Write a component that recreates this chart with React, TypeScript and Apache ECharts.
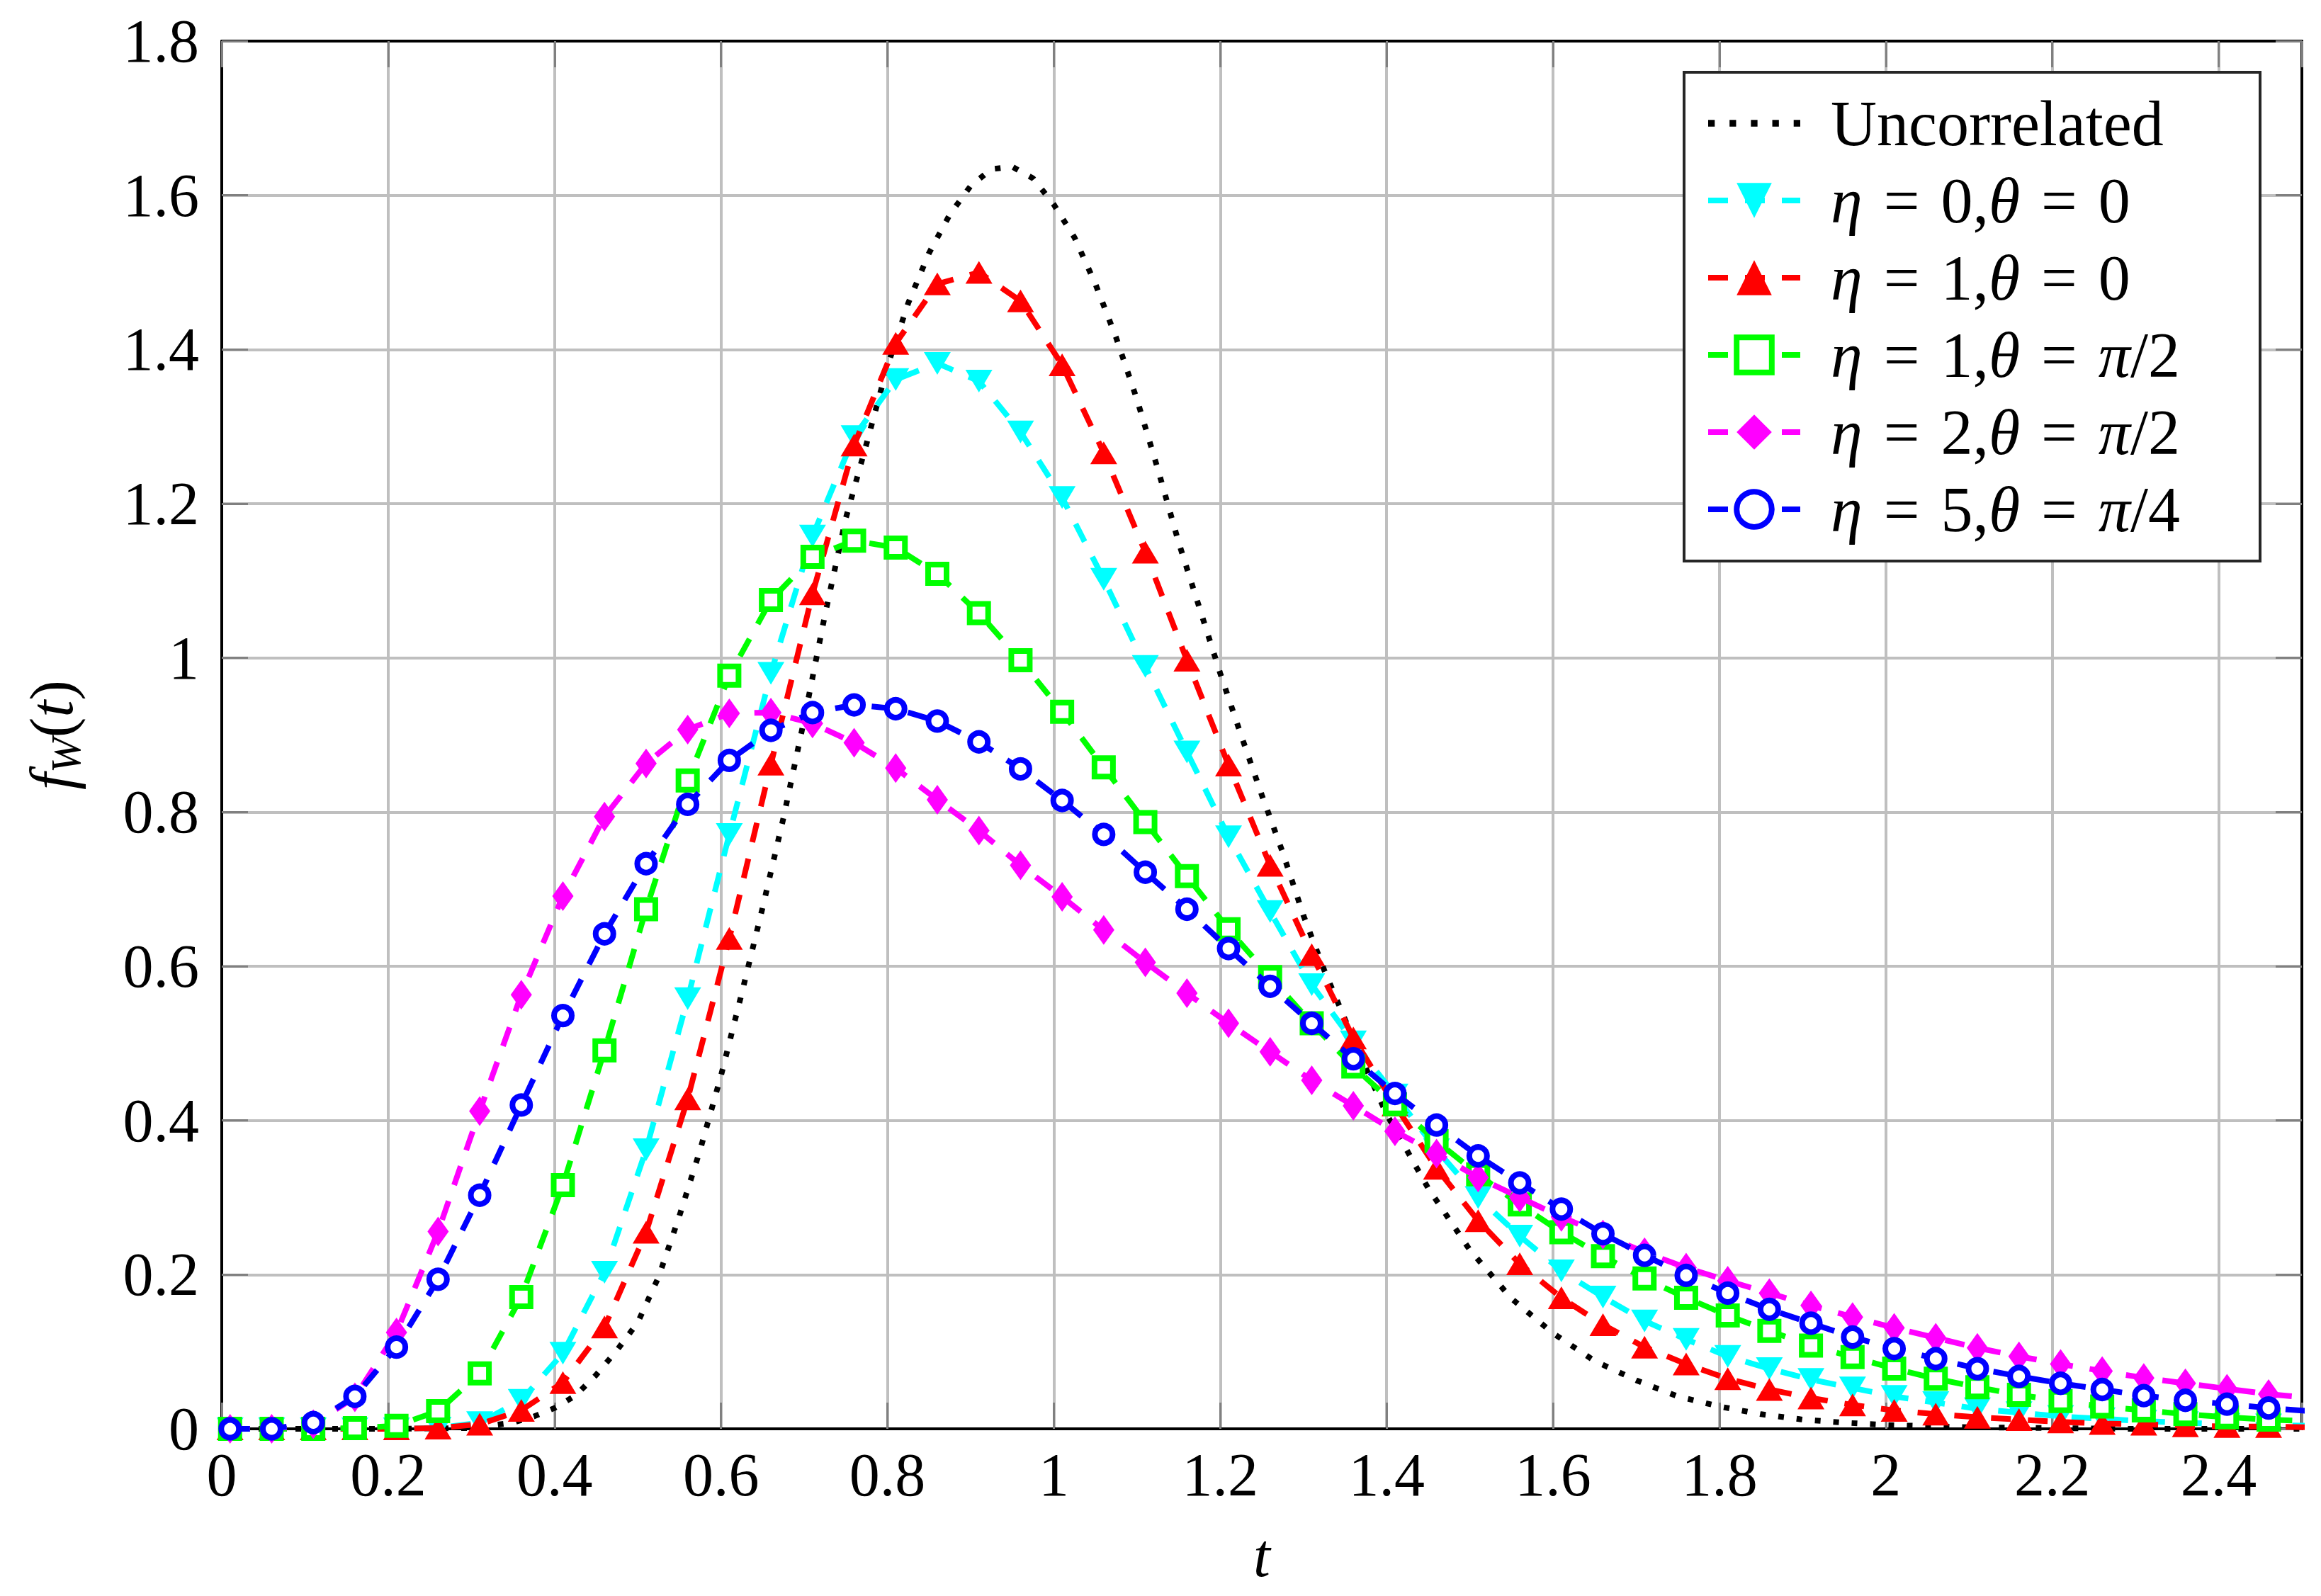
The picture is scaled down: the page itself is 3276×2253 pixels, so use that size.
import React, { useEffect, useRef } from "react";
import * as echarts from "echarts";

// ---------- data ----------
const T = [
  0.01, 0.06, 0.11, 0.16, 0.21, 0.26, 0.31, 0.36, 0.41, 0.46,
  0.51, 0.56, 0.61, 0.66, 0.71, 0.76, 0.81, 0.86, 0.91, 0.96,
  1.01, 1.06, 1.11, 1.16, 1.21, 1.26, 1.31, 1.36, 1.41, 1.46,
  1.51, 1.56, 1.61, 1.66, 1.71, 1.76, 1.81, 1.86, 1.91, 1.96,
  2.01, 2.06, 2.11, 2.16, 2.21, 2.26, 2.31, 2.36, 2.41, 2.46, 2.51,
];

const eta0theta0 = [
  0, 0, 0, 0, 0, 0.001, 0.008, 0.037, 0.098, 0.203,
  0.362, 0.558, 0.771, 0.98, 1.158, 1.287, 1.361, 1.382, 1.359, 1.293,
  1.208, 1.102, 0.989, 0.878, 0.768, 0.671, 0.576, 0.502, 0.433, 0.362,
  0.3, 0.25, 0.205, 0.171, 0.14, 0.116, 0.094, 0.078, 0.064, 0.053,
  0.042, 0.034, 0.026, 0.021, 0.016, 0.013, 0.01, 0.008, 0.006, 0.005, 0.004,
];

const eta1theta0 = [
  0, 0, 0, 0, 0, 0.001, 0.006, 0.024, 0.06, 0.132,
  0.255, 0.428, 0.636, 0.862, 1.083, 1.276, 1.408, 1.485, 1.5, 1.463,
  1.38, 1.266, 1.137, 0.997, 0.861, 0.731, 0.615, 0.507, 0.42, 0.338,
  0.27, 0.214, 0.17, 0.135, 0.106, 0.084, 0.065, 0.051, 0.04, 0.031,
  0.024, 0.019, 0.015, 0.012, 0.009, 0.007, 0.006, 0.004, 0.003, 0.003, 0.002,
];

const eta1thetaPi2 = [
  0, 0, 0, 0.001, 0.004, 0.023, 0.072, 0.171, 0.316, 0.491,
  0.674, 0.841, 0.977, 1.075, 1.131, 1.152, 1.143, 1.109, 1.058, 0.997,
  0.93, 0.858, 0.787, 0.717, 0.648, 0.586, 0.526, 0.47, 0.421, 0.373,
  0.33, 0.291, 0.255, 0.224, 0.195, 0.17, 0.147, 0.127, 0.108, 0.093,
  0.078, 0.065, 0.054, 0.044, 0.036, 0.029, 0.024, 0.019, 0.015, 0.012, 0.01,
];

const eta2thetaPi2 = [
  0, 0, 0.006, 0.041, 0.125, 0.256, 0.412, 0.563, 0.691, 0.794,
  0.863, 0.907, 0.928, 0.929, 0.915, 0.89, 0.857, 0.816, 0.776, 0.731,
  0.69, 0.647, 0.605, 0.565, 0.526, 0.489, 0.452, 0.419, 0.386, 0.357,
  0.326, 0.3, 0.275, 0.252, 0.229, 0.209, 0.192, 0.176, 0.16, 0.145,
  0.131, 0.118, 0.105, 0.094, 0.084, 0.075, 0.066, 0.059, 0.052, 0.045, 0.04,
];

const eta5thetaPi4 = [
  0, 0, 0.008, 0.042, 0.106, 0.194, 0.303, 0.42, 0.536, 0.642,
  0.733, 0.81, 0.867, 0.906, 0.929, 0.939, 0.934, 0.918, 0.891, 0.856,
  0.815, 0.771, 0.722, 0.674, 0.623, 0.574, 0.526, 0.48, 0.435, 0.394,
  0.354, 0.319, 0.285, 0.253, 0.225, 0.199, 0.176, 0.155, 0.137, 0.119,
  0.104, 0.091, 0.078, 0.068, 0.059, 0.051, 0.043, 0.037, 0.032, 0.027, 0.023,
];

const uncorrT = [
  0, 0.2, 0.25, 0.3, 0.35, 0.375, 0.4, 0.425, 0.45, 0.475,
  0.5, 0.525, 0.55, 0.575, 0.6, 0.625, 0.65, 0.675, 0.7, 0.725,
  0.75, 0.775, 0.8, 0.825, 0.85, 0.875, 0.9, 0.925, 0.95, 0.975,
  1.0, 1.025, 1.05, 1.075, 1.1, 1.125, 1.15, 1.175, 1.2, 1.225,
  1.25, 1.275, 1.3, 1.325, 1.35, 1.375, 1.4, 1.45, 1.5, 1.55,
  1.6, 1.65, 1.7, 1.75, 1.8, 1.85, 1.9, 1.95, 2.0, 2.1,
  2.2, 2.3, 2.5,
];
const uncorrV = [
  0, 0, 0.0005, 0.001, 0.008, 0.016, 0.027, 0.043, 0.07, 0.102,
  0.138, 0.197, 0.276, 0.362, 0.458, 0.565, 0.676, 0.792, 0.92, 1.056,
  1.181, 1.278, 1.378, 1.46, 1.525, 1.575, 1.612, 1.634, 1.637, 1.622,
  1.588, 1.545, 1.485, 1.415, 1.335, 1.245, 1.15, 1.065, 0.98, 0.9,
  0.822, 0.748, 0.666, 0.595, 0.531, 0.468, 0.408, 0.312, 0.232, 0.169,
  0.124, 0.088, 0.063, 0.042, 0.029, 0.019, 0.012, 0.008, 0.005, 0.002,
  0.001, 0, 0,
];

const xTickLabels = ["0", "0.2", "0.4", "0.6", "0.8", "1", "1.2", "1.4", "1.6", "1.8", "2", "2.2", "2.4"];
const yTickLabels = ["0", "0.2", "0.4", "0.6", "0.8", "1", "1.2", "1.4", "1.6", "1.8"];

const seriesNames = [
  "Uncorrelated",
  "η = 0,θ = 0",
  "η = 1,θ = 0",
  "η = 1,θ = π/2",
  "η = 2,θ = π/2",
  "η = 5,θ = π/4",
];
const legendRich = [
  "Uncorrelated",
  "{i|η}{e|=}{n|0,}{i|θ}{e|=}{n|0}",
  "{i|η}{e|=}{n|1,}{i|θ}{e|=}{n|0}",
  "{i|η}{e|=}{n|1,}{i|θ}{e|=}{i|π}{n|/2}",
  "{i|η}{e|=}{n|2,}{i|θ}{e|=}{i|π}{n|/2}",
  "{i|η}{e|=}{n|5,}{i|θ}{e|=}{i|π}{n|/4}",
];

// ---------- styling ----------
const FONT = "'Liberation Serif', 'Times New Roman', serif";
const FS = 86;
const LFS = 90;
const DASH = [28, 24];
const LW = 8;

function pairs(xs: number[], ys: number[]) {
  return xs.map((x, i) => [x, ys[i]]);
}

function tickFmt(labels: string[], step: number) {
  return (v: number) => {
    const k = Math.round(v / step);
    if (Math.abs(v - k * step) > 1e-6) return "";
    return labels[k] ?? "";
  };
}

export default function App() {
  const ref = useRef<HTMLDivElement>(null);

  useEffect(() => {
    if (!ref.current) return;
    const chart = echarts.init(ref.current, undefined, { renderer: "svg" });

    const axisLineStyle = { color: "#000", width: 4 };
    const tickStyle = { color: "#808080", width: 3 };
    const gridStyle = { color: "#bfbfbf", width: 4 };

    const markerSeries = (
      idx: number,
      values: number[],
      color: string,
      symbol: string,
      size: number | number[],
      hollow: boolean,
      rotate = 0
    ) => ({
      name: seriesNames[idx],
      type: "line",
      data: pairs(T, values),
      showSymbol: true,
      symbol,
      symbolSize: size,
      symbolRotate: rotate,
      lineStyle: { color, width: LW, type: DASH, cap: "butt" },
      itemStyle: hollow
        ? { color: "#fff", borderColor: color, borderWidth: 8 }
        : { color, borderWidth: 0 },
      clip: true,
      z: 2 + idx,
    });

    const richStyles = {
      i: { fontFamily: FONT, fontSize: LFS, fontStyle: "italic", color: "#000", lineHeight: 90 },
      n: { fontFamily: FONT, fontSize: LFS, color: "#000", lineHeight: 90 },
      e: { fontFamily: FONT, fontSize: LFS, color: "#000", lineHeight: 90, padding: [0, 30, 0, 30] },
    };

    const option: any = {
      animation: false,
      backgroundColor: "#fff",
      grid: { left: 313, right: 27, top: 58, bottom: 236, containLabel: false },
      xAxis: [
        {
          type: "value",
          min: 0,
          max: 2.5,
          interval: 0.2,
          position: "bottom",
          axisLine: { show: true, onZero: false, lineStyle: axisLineStyle },
          axisTick: { show: true, inside: true, length: 37, lineStyle: tickStyle },
          axisLabel: {
            show: true,
            margin: 22,
            fontFamily: FONT,
            fontSize: FS,
            color: "#000",
            formatter: tickFmt(xTickLabels, 0.2),
          },
          splitLine: { show: true, lineStyle: gridStyle },
          name: "t",
          nameLocation: "middle",
          nameGap: 136,
          nameTextStyle: { fontFamily: FONT, fontSize: FS, fontStyle: "italic", color: "#000" },
        },
        {
          type: "value",
          min: 0,
          max: 2.5,
          interval: 0.2,
          position: "top",
          axisLine: { show: true, onZero: false, lineStyle: axisLineStyle },
          axisTick: { show: true, inside: true, length: 37, lineStyle: tickStyle },
          axisLabel: { show: false },
          splitLine: { show: false },
        },
      ],
      yAxis: [
        {
          type: "value",
          min: 0,
          max: 1.8,
          interval: 0.2,
          position: "left",
          axisLine: { show: true, onZero: false, lineStyle: axisLineStyle },
          axisTick: { show: true, inside: true, length: 37, lineStyle: tickStyle },
          axisLabel: {
            show: true,
            margin: 32,
            fontFamily: FONT,
            fontSize: FS,
            color: "#000",
            formatter: tickFmt(yTickLabels, 0.2),
          },
          splitLine: { show: true, lineStyle: gridStyle },
          name: "{i|f}{s|W}{n|(}{i|t}{n|)}",
          nameLocation: "middle",
          nameRotate: 90,
          nameGap: 190,
          nameTextStyle: {
            color: "#000",
            rich: {
              i: { fontFamily: FONT, fontSize: FS, fontStyle: "italic", color: "#000", lineHeight: 100 },
              n: { fontFamily: FONT, fontSize: FS, color: "#000", lineHeight: 100 },
              s: { fontFamily: FONT, fontSize: 60, fontStyle: "italic", color: "#000", lineHeight: 60, verticalAlign: "bottom" },
            },
          },
        },
        {
          type: "value",
          min: 0,
          max: 1.8,
          interval: 0.2,
          position: "right",
          axisLine: { show: true, onZero: false, lineStyle: axisLineStyle },
          axisTick: { show: true, inside: true, length: 37, lineStyle: tickStyle },
          axisLabel: { show: false },
          splitLine: { show: false },
        },
      ],
      legend: {
        orient: "vertical",
        left: 2407,
        top: 129,
        padding: 0,
        itemGap: 19,
        itemWidth: 130,
        itemHeight: 62,
        selectedMode: false,
        z: 100,
        lineStyle: { width: LW },
        itemStyle: { borderWidth: 8 },
        data: [
          {
            name: seriesNames[0],
            icon: "path://M0,0h8v8h-8z M26,0h8v8h-8z M52,0h8v8h-8z M78,0h8v8h-8z M104,0h8v8h-8z",
            itemStyle: { color: "#000", borderWidth: 0 },
          },
          { name: seriesNames[1], itemStyle: { borderWidth: 0 } },
          { name: seriesNames[2], itemStyle: { borderWidth: 0 } },
          { name: seriesNames[3], itemStyle: { borderWidth: 8 } },
          { name: seriesNames[4], itemStyle: { borderWidth: 0 } },
          { name: seriesNames[5], itemStyle: { borderWidth: 8 } },
        ],
        formatter: (name: string) => legendRich[seriesNames.indexOf(name)] ?? name,
        textStyle: {
          fontFamily: FONT,
          fontSize: LFS,
          color: "#000",
          lineHeight: 90,
          padding: [0, 0, 0, 38],
          rich: richStyles,
        },
      },
      graphic: [
        {
          type: "rect",
          z: 90,
          shape: { x: 2377, y: 102, width: 813, height: 690 },
          style: { fill: "#fff", stroke: "#262626", lineWidth: 4 },
        },
      ],
      series: [
        {
          name: seriesNames[0],
          type: "line",
          data: pairs(uncorrT, uncorrV),
          showSymbol: false,
          symbol: "none",
          lineStyle: { color: "#000", width: LW, type: [8, 18], cap: "butt" },
          itemStyle: { color: "#000" },
          clip: true,
          z: 2,
        },
        markerSeries(1, eta0theta0, "#00ffff", "triangle", [38, 32], false, 180),
        markerSeries(2, eta1theta0, "#ff0000", "triangle", [38, 32], false, 0),
        markerSeries(3, eta1thetaPi2, "#00ff00", "rect", 26, true),
        markerSeries(4, eta2thetaPi2, "#ff00ff", "diamond", [30, 42], false),
        markerSeries(5, eta5thetaPi4, "#0000ff", "circle", 25, true),
      ],
    };

    chart.setOption(option);
    return () => chart.dispose();
  }, []);

  return (
    <div
      ref={ref}
      style={{ position: "fixed", left: 0, top: 0, width: 3276, height: 2253, background: "#fff" }}
    />
  );
}
